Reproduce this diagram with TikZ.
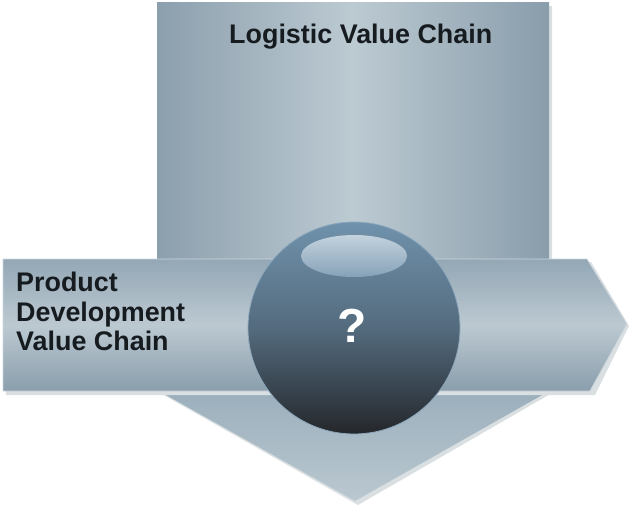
\documentclass[tikz,border=0pt]{standalone}
\usepackage{fontspec}
\setmainfont{Liberation Sans}
\usetikzlibrary{shapes.geometric}
\definecolor{edgeA}{HTML}{8C9FAD}
\definecolor{midA}{HTML}{BCCAD2}
\definecolor{edgeB}{HTML}{899DAB}
\definecolor{headTop}{HTML}{9BAFBC}
\definecolor{headBot}{HTML}{BAC8D0}
\definecolor{bandTop}{HTML}{93A7B5}
\definecolor{bandMid}{HTML}{BCC9D1}
\definecolor{bandBot}{HTML}{8A9EAC}
\definecolor{rimLine}{HTML}{CDD7DD}
\definecolor{ballTop}{HTML}{7092AC}
\definecolor{ballMid}{HTML}{546B7E}
\definecolor{ballBot}{HTML}{24272B}
\definecolor{hiTop}{HTML}{C3D2DD}
\definecolor{hiBot}{HTML}{86A2B8}
\definecolor{inkDark}{HTML}{161B20}
\definecolor{shadowC}{HTML}{DADFE2}
\tikzset{
  labeltext/.style={inner sep=0pt, text=inkDark, font=\bfseries\fontsize{27}{29.5}\selectfont},
  marktext/.style={inner sep=0pt, text=white, font=\bfseries\fontsize{48}{48}\selectfont}
}
\begin{document}
\begin{tikzpicture}[x=1bp,y=-1bp]
\useasboundingbox (0,0) rectangle (629,506);
% soft shadows
\fill[shadowC] (160,6) -- (552,6) -- (552,393) -- (358,505) -- (160,393) -- cycle;
% vertical arrow shaft
\shade[left color=edgeA, right color=edgeB, middle color=midA]
  (157,3) -- (549,3) -- (549,390) -- (157,390) -- cycle;
% vertical arrow head
\shade[top color=headTop, bottom color=headBot]
  (157,390) -- (551,390) -- (355,501) -- cycle;
% horizontal band shadow
\fill[shadowC] (6,262) -- (591,262) -- (629,326) -- (595,395) -- (6,395) -- cycle;
% horizontal arrow
\shade[top color=bandTop, bottom color=bandBot, middle color=bandMid, draw=rimLine, line width=0.8bp]
  (3,259) -- (587,259) -- (627,324) -- (590,391) -- (3,391) -- cycle;
% sphere
\node[circle, minimum size=212bp, inner sep=0pt, top color=ballTop, bottom color=ballBot, middle color=ballMid, draw=ballTop!80!white, line width=0.8bp] (ball) at (354,328) {};
\node[ellipse, minimum width=106bp, minimum height=42bp, inner sep=0pt, top color=hiTop, bottom color=hiBot] (gloss) at (354,256) {};
\node[marktext] (qmark) at (352,326) {?};
% labels
\node[labeltext, anchor=base west] (logistic) at (229,44) {Logistic Value Chain};
\node[labeltext, anchor=north west, align=left] (product) at (16,272) {Product\\Development\\Value Chain};
\end{tikzpicture}
\end{document}
